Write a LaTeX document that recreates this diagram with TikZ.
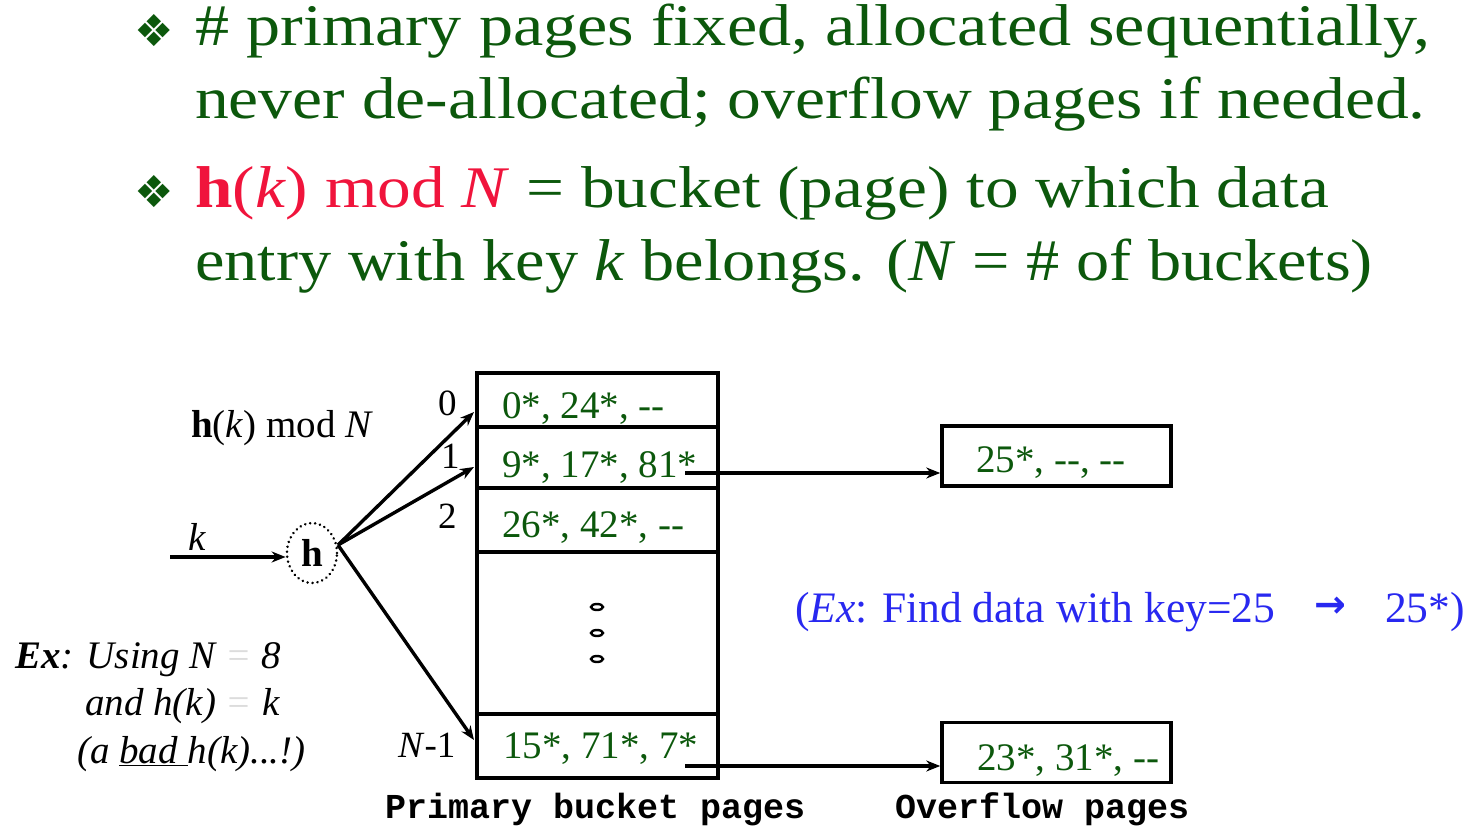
\documentclass[tikz,border=0pt]{standalone}
\usepackage{fontspec}
\setmainfont{Liberation Serif}
\setmonofont{Liberation Mono}
\newfontfamily\dejavu{DejaVu Sans}
\usetikzlibrary{arrows.meta,shapes.geometric}
\definecolor{dgreen}{RGB}{12,88,12}
\definecolor{hred}{RGB}{240,20,60}
\definecolor{exblue}{RGB}{40,40,240}
\definecolor{faint}{RGB}{220,220,220}
\begin{document}
\begin{tikzpicture}[x=1pt,y=-1pt,
  hdr/.style={anchor=base west, inner sep=0pt, text=dgreen, font=\fontsize{59}{60}\selectfont},
  bul/.style={inner sep=0pt, text=dgreen, font=\dejavu\fontsize{44}{44}\selectfont},
  bucket/.style={draw, line width=3.5pt, minimum width=241pt, inner sep=0pt},
  ovf/.style={draw, line width=3.5pt, minimum width=229pt, minimum height=60pt, inner sep=0pt},
  entry/.style={anchor=base west, inner sep=0pt, text=dgreen, font=\fontsize{39}{39}\selectfont},
  lbl/.style={anchor=base west, inner sep=0pt, font=\fontsize{37}{37}\selectfont},
  exl/.style={anchor=base west, inner sep=0pt, font=\fontsize{39}{39}\selectfont\itshape},
  captext/.style={anchor=base west, inner sep=0pt, font=\ttfamily\bfseries\fontsize{35}{35}\selectfont},
  arr/.style={line width=3.4pt, -{Stealth[length=14pt,width=11pt]}},
  dotmark/.style={ellipse, draw, line width=2.4pt, fill=white, minimum width=12pt, minimum height=6pt, inner sep=0pt}
]
\useasboundingbox (0,0) rectangle (1476,838);

% header
\node[bul] (b1) at (154,31) {❖};
\node[bul] (b2) at (154,192) {❖};
\node[hdr] (l1) at (195,45) {\scalebox{1.155}[1]{\# primary pages fixed, allocated sequentially,}};
\node[hdr] (l2) at (195,118) {\scalebox{1.145}[1]{never de-allocated; overflow pages if needed.}};
\node[hdr] (l3) at (195,207) {\scalebox{1.141}[1]{{\color{hred}\textbf{h}(\textit{k}) mod \textit{N}} = bucket (page) to which data}};
\node[hdr] (l4) at (195,280) {\scalebox{1.124}[1]{entry with key \textit{k} belongs. (\textit{N} = \# of buckets)}};

% primary bucket pages
\node[bucket, minimum height=54pt] (p0) at (597.5,400) {};
\node[bucket, minimum height=61pt] (p1) at (597.5,457.5) {};
\node[bucket, minimum height=64pt] (p2) at (597.5,520) {};
\node[bucket, minimum height=162pt] (pd) at (597.5,633) {};
\node[bucket, minimum height=64pt] (pn) at (597.5,746) {};
\node[dotmark] (d1) at (597,607) {};
\node[dotmark] (d2) at (597,633) {};
\node[dotmark] (d3) at (597,659) {};

\node[entry] (e0) at (502,418) {0*, 24*, -{}-};
\node[entry] (e1) at (502,477) {9*, 17*, 81*};
\node[entry] (e2) at (502,537) {26*, 42*, -{}-};
\node[entry] (en) at (503,758) {15*, 71*, 7*};

% overflow pages
\node[ovf] (o1) at (1056.5,456) {};
\node[ovf] (o2) at (1056.5,752.5) {};
\node[entry] (f1) at (976,472) {25*, -{}-, -{}-};
\node[entry] (f2) at (977,770) {23*, 31*, -{}-};

\coordinate (s1) at (685,473);
\coordinate (s2) at (685,766);
\draw[arr] (s1) -- (s1 -| o1.west);
\draw[arr] (s2) -- (s2 -| o2.west);

% hash function
\node[ellipse, draw, line width=2.8pt, dash pattern=on 0.01pt off 5pt, line cap=round, minimum width=50pt, minimum height=60pt, inner sep=0pt, font=\bfseries\fontsize{39}{39}\selectfont] (h) at (312,553) {h};
\coordinate (kin) at (170,557);
\draw[arr] (kin) -- (kin -| h.west);
\node[lbl, font=\itshape\fontsize{39}{39}\selectfont] (klbl) at (188,550) {k};
\node[lbl, font=\fontsize{39}{39}\selectfont] (hmod) at (191,437) {\textbf{h}(\textit{k}) mod \textit{N}};

\coordinate (ho) at (338,545);
\coordinate (t0) at (474,412);
\coordinate (t1) at (474,467);
\coordinate (tn) at (474,740);
\draw[arr] (ho) -- (t0);
\draw[arr] (ho) -- (t1);
\draw[arr] (ho) -- (tn);

\node[lbl] (n0) at (438,415) {0};
\node[lbl] (n1) at (441,468) {1};
\node[lbl] (n2) at (438,528) {2};
\node[lbl] (nn) at (398,757) {\textit{N}-1};

% example
\node[exl] (x1) at (15,668) {\textbf{Ex}: Using N {\color{faint}=} 8};
\node[exl] (x2) at (85,715) {and h(k) {\color{faint}=} k};
\node[exl] (x3) at (77,763) {(a \underline{bad }h(k)...!)};

\node[lbl, text=exblue, font=\fontsize{43.5}{43.5}\selectfont] (ex) at (795,622) {(\textit{Ex}: Find data with key=25};
\node[inner sep=0pt, text=exblue, font=\dejavu\bfseries\fontsize{38}{38}\selectfont] (exa) at (1330,607) {→};
\node[lbl, text=exblue, font=\fontsize{43.5}{43.5}\selectfont] (exr) at (1385,622) {25*)};

% captions
\node[captext] (c1) at (385,818) {Primary bucket pages};
\node[captext] (c2) at (895,818) {Overflow pages};
\end{tikzpicture}
\end{document}
